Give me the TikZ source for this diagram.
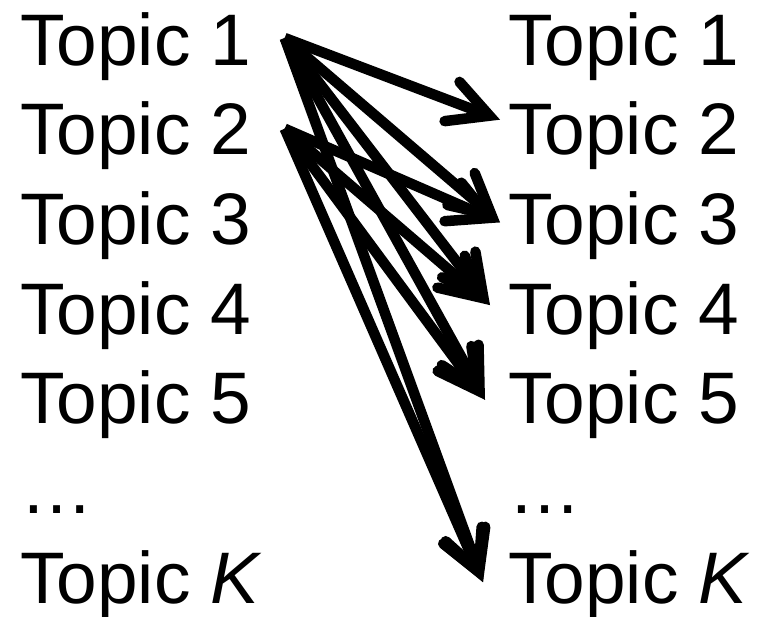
\documentclass[tikz,border=0pt]{standalone}
\usepackage{fontspec}
\setmainfont{Liberation Sans}
\usetikzlibrary{arrows.meta}
\begin{document}
\begin{tikzpicture}[x=1pt,y=-1pt,
  topic/.style={anchor=base west, inner sep=0pt, font=\fontsize{73}{80}\selectfont},
  link/.style={line width=10.5pt,
    -{Straight Barb[length=40pt,width=42pt,line cap=round,line join=miter]}}]
\useasboundingbox (0,0) rectangle (775,616);
% two columns of topics
\foreach \i/\t in {1/Topic 1,2/Topic 2,3/Topic 3,4/Topic 4,5/Topic 5,6/\dots,7/Topic \textit{K}}{
  \node[topic] (L\i) at (20,{65+(\i-1)*89.7}) {\t};
  \node[topic] (R\i) at (508,{65+(\i-1)*89.7}) {\t};
}
% arrow tails and heads
\coordinate (s1) at ([xshift=33pt,yshift=27pt]L1.base east);
\coordinate (s2) at ([xshift=33pt,yshift=26pt]L2.base east);
\coordinate (e2) at ([xshift=-8pt,yshift=35pt]R2.base west);
\coordinate (e3) at ([xshift=-8pt,yshift=22pt]R3.base west);
\coordinate (e4) at ([xshift=-18pt,yshift=29pt]R4.base west);
\coordinate (e5) at ([xshift=-23pt,yshift=24pt]R5.base west);
\coordinate (eK) at ([xshift=-25pt,yshift=21pt]R7.base west);
% links
\foreach \e in {e2,e3,e4,e5,eK}{\draw[link] (s1) -- (\e);}
\foreach \e in {e3,e4,e5,eK}{\draw[link] (s2) -- (\e);}
\end{tikzpicture}
\end{document}
